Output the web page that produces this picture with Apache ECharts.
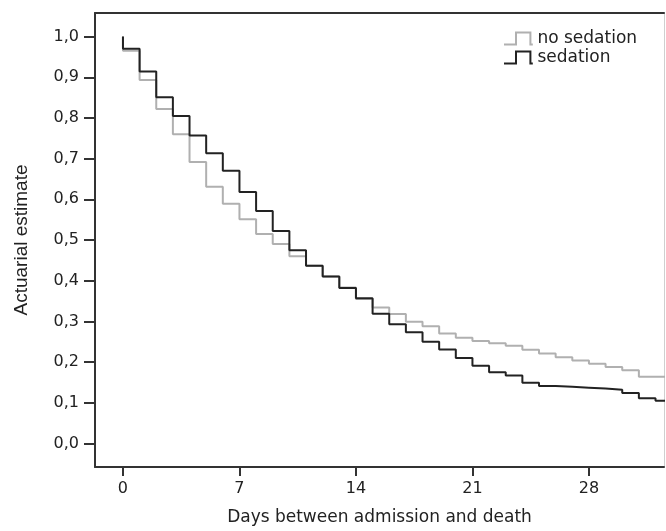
<!DOCTYPE html>
<html>
<head>
<meta charset="utf-8">
<script src="https://cdn.jsdelivr.net/npm/echarts@6/dist/echarts.min.js"></script>
<style>
html,body{margin:0;padding:0;background:#fff;}
#chart{width:666px;height:531px;}
</style>
</head>
<body>
<div id="chart"></div>
<script>
// Days (start of each 1-day interval)
var days = [0,1,2,3,4,5,6,7,8,9,10,11,12,13,14,15,16,17,18,19,20,21,22,23,24,25,26,27,28,29,30,31,32,33];
// Actuarial estimate, sedation group
var sedation = [0.970,0.914,0.851,0.805,0.757,0.713,0.670,0.618,0.571,0.522,0.475,0.437,0.410,0.382,0.357,0.319,0.293,0.273,0.250,0.231,0.210,0.191,0.175,0.167,0.149,0.141,0.139,0.137,0.135,0.132,0.124,0.111,0.105,0.105];
// Actuarial estimate, no sedation group
var noSedation = [0.965,0.893,0.822,0.760,0.692,0.631,0.589,0.551,0.515,0.490,0.460,0.437,0.410,0.383,0.355,0.334,0.318,0.299,0.288,0.270,0.260,0.252,0.246,0.240,0.230,0.221,0.212,0.204,0.196,0.188,0.180,0.164,0.164,0.164];
var startValue = 1.0;
var xTicks = [0,7,14,21,28];
var yTicks = [0,0.1,0.2,0.3,0.4,0.5,0.6,0.7,0.8,0.9,1.0];
var seriesNames = ['no sedation','sedation'];

function build(vals){
  var d = [[0,startValue]];
  for (var i=0;i<days.length;i++) d.push([days[i], vals[i]]);
  return d;
}

var chart = echarts.init(document.getElementById('chart'), null, {renderer:'canvas'});
var font = 'DejaVu Sans, Liberation Sans, Arial, sans-serif';
var stepIcon = 'path://M0,10 L10,10 L10,0 L22,0 L22,10 L24,10';
var XMIN = -1.68, XMAX = 32.51, YMIN = -0.058, YMAX = 1.058;
chart.setOption({
  animation:false,
  backgroundColor:'#fff',
  grid:{left:95,right:2,top:13,bottom:55,show:false},
  legend:{
    orient:'vertical',left:503,top:30,itemGap:2,itemWidth:32,itemHeight:12,padding:0,
    icon:stepIcon,
    textStyle:{fontFamily:font,fontSize:17,color:'#222',padding:[0,0,0,-2]},
    data:[
      {name:seriesNames[0],itemStyle:{color:'transparent',borderColor:'#b0b0b0',borderWidth:2}},
      {name:seriesNames[1],itemStyle:{color:'transparent',borderColor:'#222',borderWidth:2}}
    ]
  },
  xAxis:[{
    type:'value',min:XMIN,max:XMAX,position:'bottom',
    name:'Days between admission and death',nameLocation:'middle',nameGap:42,
    nameTextStyle:{fontFamily:font,fontSize:17,color:'#222'},
    axisLine:{show:true,onZero:false,lineStyle:{color:'#333',width:2}},
    axisTick:{show:true,customValues:xTicks,length:9,lineStyle:{color:'#333',width:2}},
    axisLabel:{customValues:xTicks,margin:14,fontFamily:font,fontSize:16,color:'#222'},
    splitLine:{show:false}
  },{
    type:'value',min:XMIN,max:XMAX,position:'top',
    axisLine:{show:true,onZero:false,lineStyle:{color:'#333',width:2}},
    axisTick:{show:false},axisLabel:{show:false},splitLine:{show:false}
  }],
  yAxis:[{
    type:'value',min:YMIN,max:YMAX,position:'left',
    name:'Actuarial estimate',nameLocation:'middle',nameGap:64,nameRotate:90,
    nameTextStyle:{fontFamily:'Liberation Sans, Arial, sans-serif',fontSize:19,color:'#222'},
    axisLine:{show:true,onZero:false,lineStyle:{color:'#333',width:2}},
    axisTick:{show:true,customValues:yTicks,length:11,lineStyle:{color:'#333',width:2}},
    axisLabel:{customValues:yTicks,margin:16,fontFamily:font,fontSize:16,color:'#222',
      formatter:function(v){return v.toFixed(1).replace('.',',');}},
    splitLine:{show:false}
  },{
    type:'value',min:YMIN,max:YMAX,position:'right',
    axisLine:{show:true,onZero:false,lineStyle:{color:'#cfcfcf',width:1}},
    axisTick:{show:false},axisLabel:{show:false},splitLine:{show:false}
  }],
  series:[
    {name:seriesNames[0],type:'line',step:'end',showSymbol:false,data:build(noSedation),
      itemStyle:{color:'#b0b0b0'},lineStyle:{color:'#b0b0b0',width:2},z:2,clip:true},
    {name:seriesNames[1],type:'line',step:'end',showSymbol:false,data:build(sedation),
      itemStyle:{color:'#222'},lineStyle:{color:'#222',width:2},z:3,clip:true}
  ]
});
</script>
</body>
</html>
